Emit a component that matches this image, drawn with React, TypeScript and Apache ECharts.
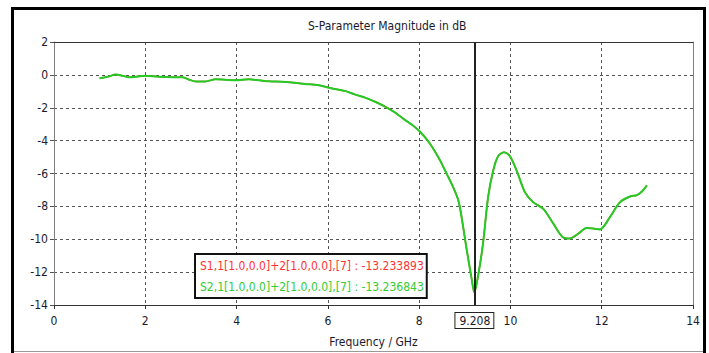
import React, { useEffect, useRef } from "react";
import * as echarts from "echarts";

const freqGHz = [1.0,1.2,1.35,1.5,1.64,1.8,2.0,2.3,2.6,2.81,2.95,3.1,3.32,3.54,3.75,3.98,4.27,4.5,4.71,5.0,5.22,5.5,5.8,6.1,6.39,6.6,6.83,7.05,7.28,7.45,7.65,7.85,8.02,8.23,8.45,8.6,8.75,8.86,8.93,9.04,9.15,9.208,9.29,9.4,9.51,9.62,9.73,9.86,9.99,10.14,10.32,10.5,10.72,10.94,11.16,11.3,11.49,11.67,11.82,11.96,12.18,12.4,12.62,12.77,12.88,12.99];
const s11dB = [-0.2,-0.1,0.02,-0.05,-0.15,-0.12,-0.05,-0.12,-0.15,-0.15,-0.28,-0.4,-0.4,-0.27,-0.3,-0.33,-0.27,-0.33,-0.39,-0.42,-0.47,-0.55,-0.63,-0.83,-0.99,-1.2,-1.4,-1.65,-1.97,-2.25,-2.66,-3.05,-3.46,-4.16,-5.16,-6.0,-6.86,-7.65,-8.65,-10.6,-12.4,-13.234,-12.25,-10.25,-7.45,-5.85,-4.95,-4.7,-4.95,-5.85,-7.15,-7.75,-8.15,-9.05,-9.9,-9.95,-9.65,-9.32,-9.35,-9.4,-8.65,-7.75,-7.4,-7.32,-7.1,-6.72];
const s21dB = [-0.2,-0.1,0.02,-0.05,-0.15,-0.12,-0.05,-0.12,-0.15,-0.15,-0.28,-0.4,-0.4,-0.27,-0.3,-0.33,-0.27,-0.33,-0.39,-0.42,-0.47,-0.55,-0.63,-0.83,-0.99,-1.2,-1.4,-1.65,-1.97,-2.25,-2.66,-3.05,-3.46,-4.16,-5.16,-6.0,-6.86,-7.65,-8.65,-10.6,-12.4,-13.237,-12.25,-10.25,-7.45,-5.85,-4.95,-4.7,-4.95,-5.85,-7.15,-7.75,-8.15,-9.05,-9.9,-9.95,-9.65,-9.32,-9.35,-9.4,-8.65,-7.75,-7.4,-7.32,-7.1,-6.72];

const seriesNames = ["S1,1[1.0,0.0]+2[1.0,0.0],[7]", "S2,1[1.0,0.0]+2[1.0,0.0],[7]"];
const markerValues = ["-13.233893", "-13.236843"];
const markerFreq = 9.208;
const xTicks = { min: 0, max: 14, interval: 2 };
const yTicks = { min: -14, max: 2, interval: 2 };

const FONT = "DejaVu Sans Condensed";

export default function App() {
  const ref = useRef<HTMLDivElement>(null);
  useEffect(() => {
    const chart = echarts.init(ref.current!, null, { renderer: "svg" });
    const pairs = (ys: number[]) => freqGHz.map((f, i) => [f, ys[i]]);
    const gridLine = { show: true, lineStyle: { color: "#555", type: [3, 3] as any, width: 1 } };
    chart.setOption({
      animation: false,
      backgroundColor: "#fff",
      textStyle: { fontFamily: FONT },
      title: {
        text: "S-Parameter Magnitude in dB",
        left: 303,
        top: 15,
        textStyle: { fontSize: 12, fontWeight: "normal", color: "#1a1a2e", fontFamily: FONT },
      },
      grid: { left: 54, right: 16, top: 42, bottom: 44 },
      legend: {
        orient: "vertical",
        left: 195,
        top: 254,
        itemGap: 8,
        padding: [5, 3, 5, 0],
        backgroundColor: "#fff",
        borderColor: "#111",
        borderWidth: 2,
        icon: "none",
        itemWidth: 0,
        selectedMode: false,
        formatter: (name: string) => name + " : " + markerValues[seriesNames.indexOf(name)],
        data: [
          { name: seriesNames[0], textStyle: { color: "#ff3333", fontSize: 12, fontFamily: FONT } },
          { name: seriesNames[1], textStyle: { color: "#33cc33", fontSize: 12, fontFamily: FONT } },
        ],
      },
      xAxis: [
        {
          type: "value",
          ...xTicks,
          name: "Frequency / GHz",
          nameLocation: "middle",
          nameGap: 31,
          nameTextStyle: { fontSize: 12, color: "#1a1a2e", fontFamily: FONT },
          axisLine: { show: true, onZero: false, lineStyle: { color: "#333", width: 1 } },
          axisTick: { show: true, length: 4, lineStyle: { color: "#333" } },
          axisLabel: { fontSize: 12, color: "#1a1a2e", margin: 10, fontFamily: FONT },
          splitLine: gridLine,
        },
        {
          type: "value",
          ...xTicks,
          position: "top",
          axisLine: { show: true, onZero: false, lineStyle: { color: "#333", width: 1 } },
          axisTick: { show: false },
          axisLabel: { show: false },
          splitLine: { show: false },
        },
      ],
      yAxis: [
        {
          type: "value",
          ...yTicks,
          axisLine: { show: true, onZero: false, lineStyle: { color: "#808080", width: 1 } },
          axisTick: { show: true, length: 4, lineStyle: { color: "#555" } },
          axisLabel: { fontSize: 12, color: "#1a1a2e", margin: 6, fontFamily: FONT },
          splitLine: gridLine,
        },
        {
          type: "value",
          ...yTicks,
          position: "right",
          axisLine: { show: true, onZero: false, lineStyle: { color: "#808080", width: 1 } },
          axisTick: { show: false },
          axisLabel: { show: false },
          splitLine: { show: false },
        },
      ],
      series: [
        {
          name: seriesNames[0],
          type: "line",
          data: pairs(s11dB),
          smooth: 0.3,
          showSymbol: false,
          lineStyle: { color: "#ff3333", width: 1.5 },
          itemStyle: { color: "#ff3333" },
          markLine: {
            silent: true,
            symbol: "none",
            lineStyle: { color: "#222", width: 2, type: "solid" },
            label: {
              show: true,
              position: "start",
              formatter: String(markerFreq),
              color: "#1a1a2e",
              fontSize: 12,
              fontFamily: FONT,
              backgroundColor: "#fff",
              borderColor: "#222",
              borderWidth: 1,
              padding: [2, 3, 1, 4],
              distance: 8,
            },
            data: [{ xAxis: markerFreq }],
          },
        },
        {
          name: seriesNames[1],
          type: "line",
          data: pairs(s21dB),
          smooth: 0.3,
          showSymbol: false,
          lineStyle: { color: "#22cc22", width: 2 },
          itemStyle: { color: "#22cc22" },
        },
      ],
      graphic: [
        {
          type: "rect",
          shape: { x: 12.5, y: 8.5, width: 692, height: 360 },
          style: { fill: "none", stroke: "#000", lineWidth: 3 },
          silent: true,
        },
        {
          type: "line",
          shape: { x1: 14, y1: 351.5, x2: 703, y2: 351.5 },
          style: { stroke: "#999", lineWidth: 1 },
          silent: true,
        },
      ],
    });
    return () => chart.dispose();
  }, []);
  return <div ref={ref} style={{ position: "fixed", left: 0, top: 0, width: 709, height: 353 }} />;
}
